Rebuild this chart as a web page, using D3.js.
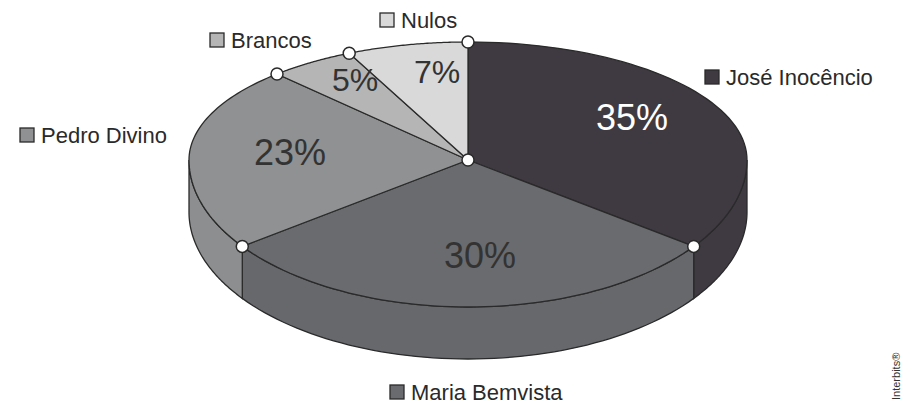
<!DOCTYPE html>
<html><head><meta charset="utf-8">
<script src="https://cdn.jsdelivr.net/npm/d3@7"></script>
<style>body{margin:0;background:#fff}</style>
</head><body>
<script>
var names = ["José Inocêncio", "Maria Bemvista", "Pedro Divino", "Brancos", "Nulos"];
var values = [35, 30, 23, 5, 7];
var topColors = ["#3f3a41", "#6a6b6e", "#8f9192", "#b5b5b5", "#d9d9d9"];
var sideColors = ["#3f3a41", "#67686b", "#8c8e8f", "#b0b0b0", "#d5d5d5"];
var labelPos = [[632,117],[480,255],[290,152],[355,80],[437,72]];
var legendPos = [[705,77],[390,392],[20,135],[210,40],[380,20]];

var W = 913, H = 409, cx = 468, cy = 160, rx = 279, ryTop = 118, ryBot = 147, depth = 52;
var svg = d3.select("body").append("svg").attr("width", W).attr("height", H)
  .style("font-family", "Liberation Sans, Arial, sans-serif");

var pie = d3.pie().sort(null).value(function(d){return d;});
var arcs = pie(values);
function pt(t, dy){
  var c = Math.cos(t);
  return [cx + rx*Math.sin(t), cy - (c > 0 ? ryTop : ryBot)*c + (dy||0)];
}
function samples(a, b){ var n = 60, r = []; for (var i=0;i<=n;i++) r.push(a + (b-a)*i/n); return r; }
var line = d3.line();

// sides
arcs.forEach(function(a, i){
  var s = Math.max(a.startAngle, Math.PI/2), e = Math.min(a.endAngle, 3*Math.PI/2);
  if (e <= s) return;
  var ts = samples(s, e);
  var p = ts.map(function(t){return pt(t);}).concat(ts.slice().reverse().map(function(t){return pt(t, depth);}));
  svg.append("path").attr("d", line(p) + "Z").attr("fill", sideColors[i])
    .attr("stroke", "#2a2a2a").attr("stroke-width", 1.3);
});
// tops
arcs.forEach(function(a, i){
  var p = [[cx, cy]].concat(samples(a.startAngle, a.endAngle).map(function(t){return pt(t);}));
  svg.append("path").attr("d", line(p) + "Z").attr("fill", topColors[i])
    .attr("stroke", "#2a2a2a").attr("stroke-width", 1.3);
});
// dots
arcs.forEach(function(a){
  var q = pt(a.startAngle);
  svg.append("circle").attr("cx", q[0]).attr("cy", q[1]).attr("r", 6)
    .attr("fill", "#fff").attr("stroke", "#2a2a2a").attr("stroke-width", 1.5);
});
svg.append("circle").attr("cx", cx).attr("cy", cy).attr("r", 6)
  .attr("fill", "#fff").attr("stroke", "#2a2a2a").attr("stroke-width", 1.5);

// percent labels
values.forEach(function(v, i){
  svg.append("text").attr("x", labelPos[i][0]).attr("y", labelPos[i][1])
    .attr("text-anchor", "middle").attr("dominant-baseline", "central")
    .attr("font-size", i < 3 ? 36 : 32).attr("fill", i === 0 ? "#fff" : "#333")
    .text(v + "%");
});
// legend
names.forEach(function(n, i){
  var l = legendPos[i];
  svg.append("rect").attr("x", l[0]).attr("y", l[1]-7).attr("width", 14).attr("height", 14)
    .attr("fill", topColors[i]).attr("stroke", "#2a2a2a").attr("stroke-width", 1.3);
  svg.append("text").attr("x", l[0]+21).attr("y", l[1]).attr("dominant-baseline", "central")
    .attr("font-size", 22).attr("fill", "#2a2a2a").text(n);
});
svg.append("text").attr("transform", "translate(900,400) rotate(-90)")
  .attr("font-size", 11).attr("fill", "#333").text("Interbits®");
</script>
</body></html>
